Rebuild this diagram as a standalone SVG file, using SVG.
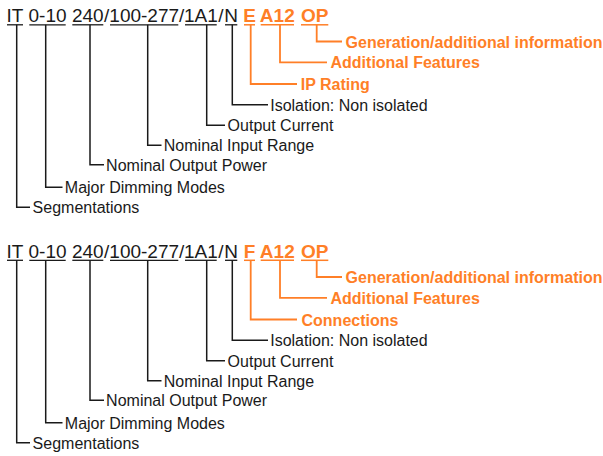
<svg xmlns="http://www.w3.org/2000/svg" width="603" height="456" viewBox="0 0 603 456">
<style>
.code{font-family:"Liberation Sans",Arial,sans-serif;font-size:19px;fill:#1a1a1a;text-anchor:middle}
.codeo{font-family:"Liberation Sans",Arial,sans-serif;font-size:19px;font-weight:bold;fill:#FF7F27;text-anchor:middle}
.lbl{font-family:"Liberation Sans",Arial,sans-serif;font-size:16px;fill:#1a1a1a}
.lblo{font-family:"Liberation Sans",Arial,sans-serif;font-size:16px;font-weight:bold;fill:#FF7F27}
.ul{stroke:#1a1a1a;stroke-width:1.3}
.ulo{stroke:#FF7F27;stroke-width:1.5}
.c{fill:none;stroke:#1a1a1a;stroke-width:1.5}
.co{fill:none;stroke:#FF7F27;stroke-width:1.8}
</style>
<g id="top">
  <g id="t-IT"><text class="code" x="15" y="22">IT</text><line class="ul" x1="7" y1="24.8" x2="23" y2="24.8"/></g>
  <g id="t-0-10"><text class="code" x="47.5" y="22">0-10</text><line class="ul" x1="29.3" y1="24.8" x2="65.7" y2="24.8"/></g>
  <g id="t-240"><text class="code" x="87.8" y="22">240</text><line class="ul" x1="72.3" y1="24.8" x2="103.3" y2="24.8"/></g>
  <text class="code" x="106.7" y="22">/</text>
  <g id="t-100-277"><text class="code" x="144.2" y="22">100-277</text><line class="ul" x1="110" y1="24.8" x2="178.3" y2="24.8"/></g>
  <text class="code" x="181.7" y="22">/</text>
  <g id="t-1A1"><text class="code" x="200.8" y="22">1A1</text><line class="ul" x1="185" y1="24.8" x2="216.7" y2="24.8"/></g>
  <text class="code" x="220.9" y="22">/</text>
  <g id="t-N"><text class="code" x="231.2" y="22">N</text><line class="ul" x1="225" y1="24.8" x2="237.3" y2="24.8"/></g>
  <g id="t-E"><text class="codeo" x="249.5" y="22">E</text><line class="ulo" x1="244" y1="24.8" x2="255" y2="24.8"/></g>
  <g id="t-A12"><text class="codeo" x="277.3" y="22">A12</text><line class="ulo" x1="260.7" y1="24.8" x2="294" y2="24.8"/></g>
  <g id="t-OP"><text class="codeo" x="314.7" y="22">OP</text><line class="ulo" x1="301" y1="24.8" x2="328.3" y2="24.8"/></g>

  <g id="connectors-top">
    <polyline class="co" points="316.7,24.8 316.7,41.5 342,41.5"/>
    <polyline class="co" points="280,24.8 280,62.3 327,62.3"/>
    <polyline class="co" points="250.7,24.8 250.7,84 297,84"/>
    <polyline class="c" points="232.3,24.8 232.3,104.8 268,104.8"/>
    <polyline class="c" points="206.7,24.8 206.7,125.3 225,125.3"/>
    <polyline class="c" points="147.7,24.8 147.7,145.3 161.5,145.3"/>
    <polyline class="c" points="90,24.8 90,164.8 104,164.8"/>
    <polyline class="c" points="45.7,24.8 45.7,187.2 62.5,187.2"/>
    <polyline class="c" points="16.7,24.8 16.7,207.2 30,207.2"/>
  </g>

  <g id="l-gen-top"><text class="lblo" x="345.6" y="47.5">Generation/additional information</text></g>
  <g id="l-feat-top"><text class="lblo" x="330.5" y="68.3">Additional Features</text></g>
  <g id="l-ip-top"><text class="lblo" x="300.7" y="90">IP Rating</text></g>
  <g id="l-iso-top"><text class="lbl" x="270.2" y="110.8">Isolation: Non isolated</text></g>
  <g id="l-cur-top"><text class="lbl" x="227.6" y="131.3">Output Current</text></g>
  <g id="l-in-top"><text class="lbl" x="163.8" y="151.3">Nominal Input Range</text></g>
  <g id="l-pow-top"><text class="lbl" x="106.1" y="170.8">Nominal Output Power</text></g>
  <g id="l-dim-top"><text class="lbl" x="64.8" y="193.2">Major Dimming Modes</text></g>
  <g id="l-seg-top"><text class="lbl" x="32.6" y="213.2">Segmentations</text></g>
</g>

<g id="bottom" transform="translate(0,235.5)">
  <g id="b-IT"><text class="code" x="15" y="22">IT</text><line class="ul" x1="7" y1="24.8" x2="23" y2="24.8"/></g>
  <g id="b-0-10"><text class="code" x="47.5" y="22">0-10</text><line class="ul" x1="29.3" y1="24.8" x2="65.7" y2="24.8"/></g>
  <g id="b-240"><text class="code" x="87.8" y="22">240</text><line class="ul" x1="72.3" y1="24.8" x2="103.3" y2="24.8"/></g>
  <text class="code" x="106.7" y="22">/</text>
  <g id="b-100-277"><text class="code" x="144.2" y="22">100-277</text><line class="ul" x1="110" y1="24.8" x2="178.3" y2="24.8"/></g>
  <text class="code" x="181.7" y="22">/</text>
  <g id="b-1A1"><text class="code" x="200.8" y="22">1A1</text><line class="ul" x1="185" y1="24.8" x2="216.7" y2="24.8"/></g>
  <text class="code" x="220.9" y="22">/</text>
  <g id="b-N"><text class="code" x="231.2" y="22">N</text><line class="ul" x1="225" y1="24.8" x2="237.3" y2="24.8"/></g>
  <g id="b-F"><text class="codeo" x="249.5" y="22">F</text><line class="ulo" x1="244" y1="24.8" x2="255" y2="24.8"/></g>
  <g id="b-A12"><text class="codeo" x="277.3" y="22">A12</text><line class="ulo" x1="260.7" y1="24.8" x2="294" y2="24.8"/></g>
  <g id="b-OP"><text class="codeo" x="314.7" y="22">OP</text><line class="ulo" x1="301" y1="24.8" x2="328.3" y2="24.8"/></g>

  <g id="connectors-bottom">
    <polyline class="co" points="316.7,24.8 316.7,41.5 342,41.5"/>
    <polyline class="co" points="280,24.8 280,62.3 327,62.3"/>
    <polyline class="co" points="250.7,24.8 250.7,84 297,84"/>
    <polyline class="c" points="232.3,24.8 232.3,104.8 268,104.8"/>
    <polyline class="c" points="206.7,24.8 206.7,125.3 225,125.3"/>
    <polyline class="c" points="147.7,24.8 147.7,145.3 161.5,145.3"/>
    <polyline class="c" points="90,24.8 90,164.8 104,164.8"/>
    <polyline class="c" points="45.7,24.8 45.7,187.2 62.5,187.2"/>
    <polyline class="c" points="16.7,24.8 16.7,207.2 30,207.2"/>
  </g>

  <g id="l-gen-bot"><text class="lblo" x="345.6" y="47.5">Generation/additional information</text></g>
  <g id="l-feat-bot"><text class="lblo" x="330.5" y="68.3">Additional Features</text></g>
  <g id="l-conn-bot"><text class="lblo" x="301.5" y="90">Connections</text></g>
  <g id="l-iso-bot"><text class="lbl" x="270.2" y="110.8">Isolation: Non isolated</text></g>
  <g id="l-cur-bot"><text class="lbl" x="227.6" y="131.3">Output Current</text></g>
  <g id="l-in-bot"><text class="lbl" x="163.8" y="151.3">Nominal Input Range</text></g>
  <g id="l-pow-bot"><text class="lbl" x="106.1" y="170.8">Nominal Output Power</text></g>
  <g id="l-dim-bot"><text class="lbl" x="64.8" y="193.2">Major Dimming Modes</text></g>
  <g id="l-seg-bot"><text class="lbl" x="32.6" y="213.2">Segmentations</text></g>
</g>
</svg>
